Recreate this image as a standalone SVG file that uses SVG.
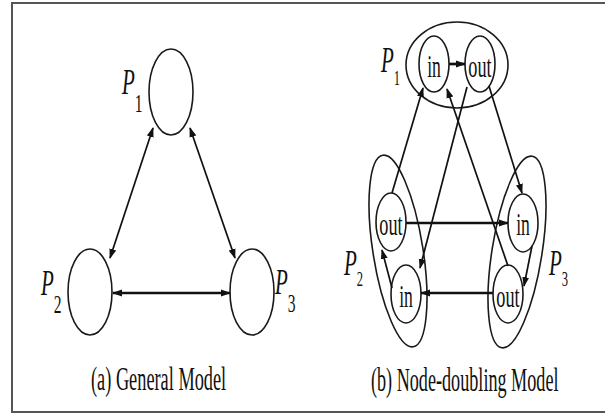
<svg xmlns="http://www.w3.org/2000/svg" width="605" height="415" viewBox="0 0 605 415">
<style>
.nd{fill:none;stroke:#1a1a1a;stroke-width:1.6}
.ln{fill:none;stroke:#111;stroke-width:1.7}
.thk{fill:none;stroke:#111;stroke-width:2.7}
.lbl{font-family:"Liberation Serif","Times New Roman",serif;font-style:italic;font-size:35px;fill:#111}
.sa{font-style:normal;font-size:26px}
.sb{font-style:normal;font-size:21px}
.io{font-family:"Liberation Serif","Times New Roman",serif;font-size:32px;fill:#111;text-anchor:middle}
.cap{font-family:"Liberation Serif","Times New Roman",serif;font-size:33px;fill:#111}
</style>
<defs>
<marker id="ah" markerUnits="userSpaceOnUse" markerWidth="10" markerHeight="8" refX="9" refY="4" orient="auto-start-reverse">
<path d="M0,0.5 L10,4 L0,7.5 z" fill="#111"/>
</marker>
</defs>
<rect width="605" height="415" fill="#fff"/>
<g id="frame" fill="none" stroke="#555" stroke-width="2">
<path d="M605,3 H12 V412 H605"/>
</g>

<g id="a-P1"><ellipse class="nd" cx="171" cy="92" rx="22" ry="43"/>
<text class="lbl" transform="translate(122,94) scale(0.6,1)">P<tspan class="sa" dy="18">1</tspan></text></g>
<g id="a-P2"><ellipse class="nd" cx="90" cy="292" rx="22" ry="43"/>
<text class="lbl" transform="translate(41,295) scale(0.6,1)">P<tspan class="sa" dy="18">2</tspan></text></g>
<g id="a-P3"><ellipse class="nd" cx="252" cy="292" rx="22" ry="43"/>
<text class="lbl" transform="translate(275,294) scale(0.6,1)">P<tspan class="sa" dy="18">3</tspan></text></g>

<g id="b-P1"><ellipse class="nd" cx="457" cy="65" rx="51" ry="43"/>
<text class="lbl" transform="translate(381,72) scale(0.6,1)">P<tspan class="sb" dy="13">1</tspan></text>
<g id="b-P1-in"><ellipse class="nd" cx="434" cy="64" rx="15" ry="28"/><text class="io" transform="translate(434,77) scale(0.55,1)">in</text></g>
<g id="b-P1-out"><ellipse class="nd" cx="480" cy="64" rx="15" ry="28"/><text class="io" transform="translate(480,77) scale(0.57,1)">out</text></g></g>

<g id="b-P2"><ellipse class="nd" cx="398" cy="251" rx="25" ry="97" transform="rotate(-9 398 251)"/>
<text class="lbl" transform="translate(344,275) scale(0.6,1)">P<tspan class="sb" dy="11">2</tspan></text>
<g id="b-P2-out"><ellipse class="nd" cx="391" cy="222" rx="15" ry="29"/><text class="io" transform="translate(391,235) scale(0.57,1)">out</text></g>
<g id="b-P2-in"><ellipse class="nd" cx="406" cy="294" rx="15" ry="29"/><text class="io" transform="translate(406,307) scale(0.55,1)">in</text></g></g>

<g id="b-P3"><ellipse class="nd" cx="517" cy="252" rx="25" ry="97" transform="rotate(9 517 252)"/>
<text class="lbl" transform="translate(549,275) scale(0.6,1)">P<tspan class="sb" dy="11">3</tspan></text>
<g id="b-P3-in"><ellipse class="nd" cx="523" cy="223" rx="15" ry="29"/><text class="io" transform="translate(523,235) scale(0.55,1)">in</text></g>
<g id="b-P3-out"><ellipse class="nd" cx="508" cy="294" rx="15" ry="29"/><text class="io" transform="translate(508,307) scale(0.57,1)">out</text></g></g>

<g id="connectors">
<line class="ln" x1="153" y1="128" x2="110" y2="258" marker-start="url(#ah)" marker-end="url(#ah)"/>
<line class="ln" x1="190" y1="128" x2="235" y2="258" marker-start="url(#ah)" marker-end="url(#ah)"/>
<line class="thk" x1="113" y1="293" x2="230" y2="293" marker-start="url(#ah)" marker-end="url(#ah)"/>

<line class="thk" x1="449" y1="64" x2="465" y2="64" marker-end="url(#ah)"/>
<line class="ln" x1="392" y1="193" x2="423" y2="88" marker-end="url(#ah)"/>
<line class="ln" x1="467" y1="87" x2="420" y2="268" marker-end="url(#ah)"/>
<line class="ln" x1="508" y1="266" x2="447" y2="89" marker-end="url(#ah)"/>
<line class="ln" x1="489" y1="86" x2="522" y2="193" marker-end="url(#ah)"/>
<line class="thk" x1="406" y1="223" x2="508" y2="223" marker-end="url(#ah)"/>
<line class="thk" x1="493" y1="293" x2="421" y2="293" marker-end="url(#ah)"/>
<line class="ln" x1="532" y1="246" x2="524" y2="286" marker-end="url(#ah)"/>
<line class="ln" x1="392" y1="288" x2="382" y2="250" marker-end="url(#ah)"/>
</g>

<text class="cap" transform="translate(91,390) scale(0.555,1)">(a) General Model</text>
<text class="cap" transform="translate(371,391) scale(0.55,1)">(b) Node-doubling Model</text>
</svg>
